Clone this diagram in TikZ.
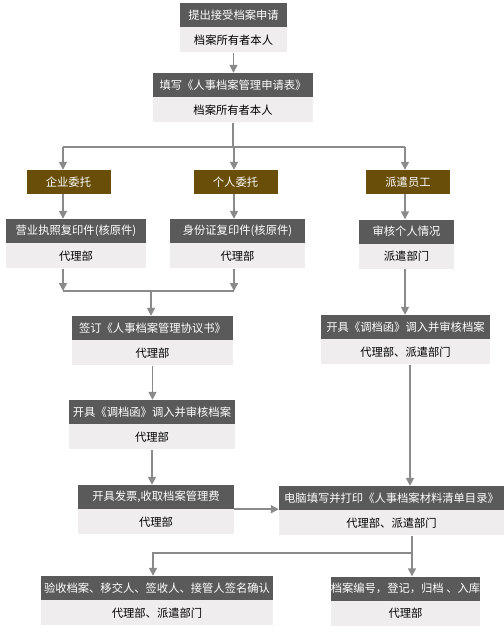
\documentclass[tikz,border=0pt]{standalone}
\usepackage{fontspec}
\setmainfont{Noto Sans CJK SC}
\usetikzlibrary{positioning,arrows.meta}
\definecolor{headgray}{RGB}{90,90,90}
\definecolor{bodygray}{RGB}{239,237,238}
\definecolor{deepbrown}{RGB}{104,78,8}
\definecolor{linegray}{RGB}{138,138,138}
\tikzset{
  box/.style={inner sep=0pt, minimum height=24pt, align=center,
              font=\fontsize{11.3}{13}\selectfont},
  headbox/.style={box, fill=headgray, text=white},
  bodybox/.style={box, fill=bodygray, text=black, minimum height=25pt},
  brownbox/.style={box, fill=deepbrown, text=white, minimum width=84pt},
  arrow/.style={-{Triangle[width=8pt,length=8pt]}, line width=1.6pt, draw=linegray},
  link/.style={line width=1.6pt, draw=linegray},
}
\begin{document}
\begin{tikzpicture}[x=1pt, y=-1pt]
  \useasboundingbox (0,0) rectangle (504,633);

  % application
  \node[headbox, minimum width=107pt] (apply) at (233.5,15) {提出接受档案申请};
  \node[bodybox, minimum width=107pt, below=0pt of apply] (applyb) {档案所有者本人};
  \node[headbox, minimum width=160pt] (form) at (233,85) {填写《人事档案管理申请表》};
  \node[bodybox, minimum width=160pt, below=0pt of form] (formb) {档案所有者本人};

  % three kinds
  \node[brownbox] (qiye)    at (68.5,182) {企业委托};
  \node[brownbox] (geren)   at (235.5,182) {个人委托};
  \node[brownbox] (paiqian) at (408,182) {派遣员工};

  \node[headbox, minimum width=140pt] (yingye) at (76,231) {营业执照复印件(核原件)};
  \node[bodybox, minimum width=140pt, below=0pt of yingye] (yingyeb) {代理部};
  \node[headbox, minimum width=135pt] (shenfen) at (237.5,231) {身份证复印件(核原件)};
  \node[bodybox, minimum width=135pt, below=0pt of shenfen] (shenfenb) {代理部};
  \node[headbox, minimum width=95pt] (check) at (406.5,231.5) {审核个人情况};
  \node[bodybox, minimum width=95pt, below=0pt of check] (checkb) {派遣部门};

  % left column
  \node[headbox, minimum width=161pt] (sign) at (152.5,328) {签订《人事档案管理协议书》};
  \node[bodybox, minimum width=161pt, below=0pt of sign] (signb) {代理部};
  \node[headbox, minimum width=166pt] (transl) at (152,412) {开具《调档函》调入并审核档案};
  \node[bodybox, minimum width=166pt, below=0pt of transl] (translb) {代理部};
  \node[headbox, minimum width=156pt] (invoice) at (156,497) {开具发票,收取档案管理费};
  \node[bodybox, minimum width=156pt, below=0pt of invoice] (invoiceb) {代理部};

  % right column
  \node[headbox, minimum width=169pt] (transr) at (405.5,327) {开具《调档函》调入并审核档案};
  \node[bodybox, minimum width=169pt, below=0pt of transr] (transrb) {代理部、派遣部门};
  \node[headbox, minimum width=225pt] (print) at (391.5,498) {电脑填写并打印《人事档案材料清单目录》};
  \node[bodybox, minimum width=225pt, below=0pt of print] (printb) {代理部、派遣部门};

  % last row
  \node[headbox, minimum width=232pt] (accept) at (157,588) {验收档案、移交人、签收人、接管人签名确认};
  \node[bodybox, minimum width=232pt, below=0pt of accept] (acceptb) {代理部、派遣部门};
  \node[headbox, minimum width=149pt] (archive) at (405.5,588.5) {档案编号，登记，归档 、入库};
  \node[bodybox, minimum width=149pt, below=0pt of archive] (archiveb) {代理部};

  \coordinate (colA) at (63,0);
  \coordinate (colB) at (234,0);
  \coordinate (colC) at (405,0);
  \coordinate (split) at (234,147);
  \coordinate (merge) at (151,291);
  \coordinate (join) at (412,553);

  % connectors
  \draw[arrow] (applyb.south) -- (applyb.south |- form.north);
  \draw[link] (formb.south) -- (formb.south |- split);
  \draw[link] (colA |- split) -- (colC |- split);
  \draw[arrow] (colA |- split) -- (colA |- qiye.north);
  \draw[arrow] (split) -- (colB |- geren.north);
  \draw[arrow] (colC |- split) -- (colC |- paiqian.north);
  \draw[arrow] (colA |- qiye.south) -- (colA |- yingye.north);
  \draw[arrow] (colB |- geren.south) -- (colB |- shenfen.north);
  \draw[arrow] (colC |- paiqian.south) -- (colC |- check.north);

  \draw[arrow] (colA |- yingyeb.south) -- (colA |- merge);
  \draw[arrow] (colB |- shenfenb.south) -- (colB |- merge);
  \draw[link] (colA |- merge) -- (colB |- merge);
  \draw[arrow] (merge) -- (merge |- sign.north);
  \draw[arrow] (signb.south) -- (signb.south |- transl.north);
  \draw[arrow] (translb.south) -- (translb.south |- invoice.north);
  \draw[arrow] (invoice.south east) -- (invoice.south east -| print.west);

  \draw[arrow] (colC |- checkb.south) -- (colC |- transr.north);
  \draw[arrow] ([xshift=4.5pt]transrb.south) -- ([xshift=4.5pt]transrb.south |- print.north);
  \draw[link] (printb.south -| join) -- (join);
  \draw[arrow] (join) -| ([xshift=-4pt]accept.north);
  \draw[arrow] (join) -- (join |- archive.north);
\end{tikzpicture}
\end{document}
